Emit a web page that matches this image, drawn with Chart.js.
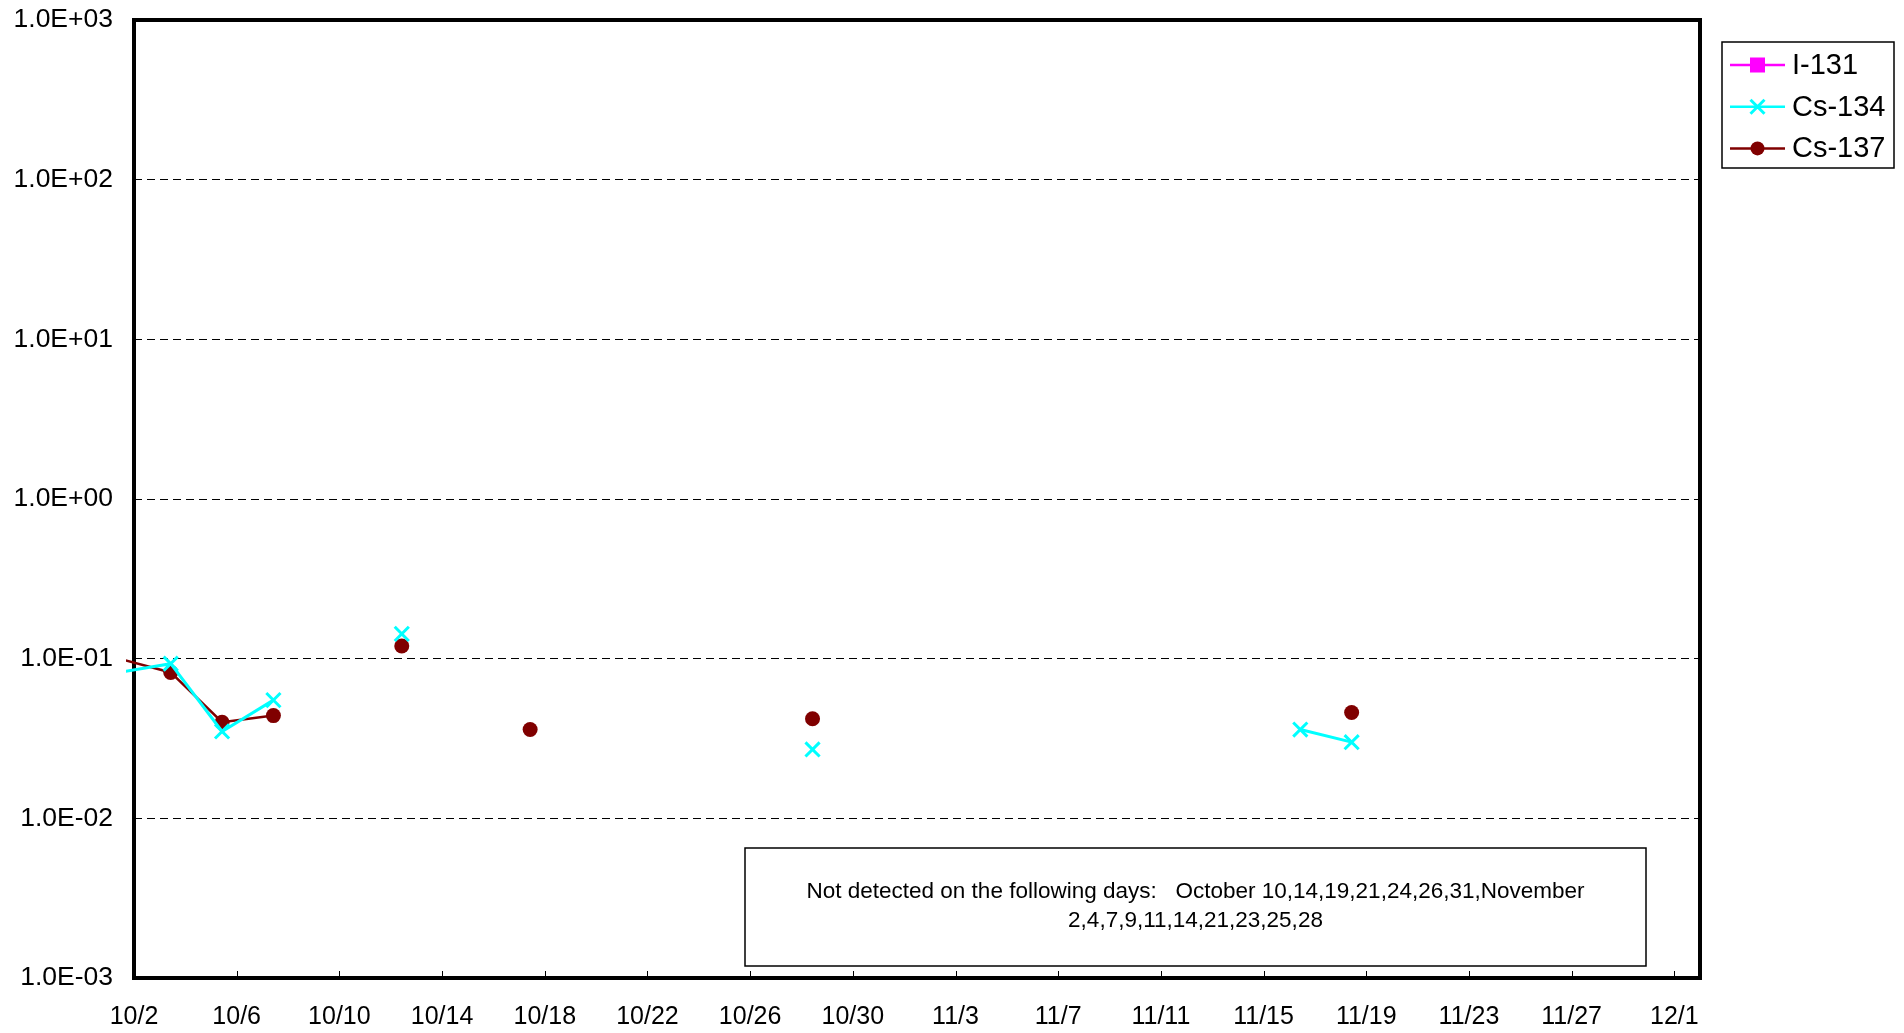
<!DOCTYPE html>
<html>
<head>
<meta charset="utf-8">
<script src="https://cdn.jsdelivr.net/npm/chart.js@4.4.1/dist/chart.umd.min.js"></script>
<style>
html,body{margin:0;padding:0;background:#fff;overflow:hidden}
</style>
</head>
<body>
<canvas id="chart" width="1904" height="1033"></canvas>
<script>
// sampling days (sample taken around 10:20 each day)
const sampleDates = ['10/1','10/3','10/5','10/7','10/10','10/12','10/14','10/17','10/19','10/21','10/24','10/26','10/28','10/31',
  '11/2','11/4','11/7','11/9','11/11','11/14','11/16','11/18','11/21','11/23','11/25','11/28'];
const sampleTime = '10:20';

const i131  = [null,null,null,null,null,null,null,null,null,null,null,null,null,null,null,null,null,null,null,null,null,null,null,null,null,null];
const cs134 = [0.082,0.093,0.035,0.055,null,0.143,null,null,null,null,null,null,0.027,null,null,null,null,null,null,null,0.036,0.030,null,null,null,null];
const cs137 = [0.10,0.082,0.040,0.044,null,0.12,null,0.036,null,null,null,null,0.042,null,null,null,null,null,null,null,null,0.046,null,null,null,null];

const xTickLabels = ['10/2','10/6','10/10','10/14','10/18','10/22','10/26','10/30','11/3','11/7','11/11','11/15','11/19','11/23','11/27','12/1'];
const xStart = '10/2', xEnd = '12/2';
const yTickValues = [1e-3,1e-2,1e-1,1,10,100,1000];
const yTickLabels = ['1.0E-03','1.0E-02','1.0E-01','1.0E+00','1.0E+01','1.0E+02','1.0E+03'];

const noteLines = ['Not detected on the following days:   October 10,14,19,21,24,26,31,November','2,4,7,9,11,14,21,23,25,28'];

const FONT = '"Liberation Sans", Arial, sans-serif';

// days since xStart
function dayNum(md, time){
  const [m,d]=md.split('/').map(Number);
  const [hh,mm]=(time||'0:00').split(':').map(Number);
  const [m0,d0]=xStart.split('/').map(Number);
  return (Date.UTC(2011,m-1,d,hh,mm)-Date.UTC(2011,m0-1,d0))/86400000;
}
const sampleX = sampleDates.map(s=>dayNum(s,sampleTime));
const toPts = arr => arr.map((v,i)=>({x:sampleX[i], y:v}));

const hideOutside = c => (c.raw && c.raw.x < 0) ? 0 : undefined;

const frame = {
  id:'frame',
  beforeDatasetsDraw(chart){
    const {ctx, chartArea:a, scales:{x}} = chart;
    ctx.save();
    ctx.strokeStyle='#000';
    ctx.lineWidth=1;
    x.ticks.forEach(t=>{
      const px=Math.round(x.getPixelForValue(t.value))+0.5;
      ctx.beginPath(); ctx.moveTo(px,a.bottom); ctx.lineTo(px,a.bottom-7); ctx.stroke();
    });
    ctx.lineWidth=4;
    ctx.strokeRect(a.left,a.top,a.right-a.left,a.bottom-a.top);
    ctx.restore();
  },
  afterDraw(chart, args, opts){
    const ctx=chart.ctx;
    ctx.save();
    // note box
    const n=opts.note;
    ctx.fillStyle='#fff';
    ctx.fillRect(n.left,n.top,n.right-n.left,n.bottom-n.top);
    ctx.strokeStyle='#000'; ctx.lineWidth=1.5;
    ctx.strokeRect(n.left,n.top,n.right-n.left,n.bottom-n.top);
    ctx.fillStyle='#000';
    ctx.font='22.5px '+FONT;
    ctx.textAlign='center'; ctx.textBaseline='alphabetic';
    noteLines.forEach((t,i)=>ctx.fillText(t,(n.left+n.right)/2,n.firstBaseline+i*n.lineGap));

    // legend
    const L=opts.legend;
    ctx.fillStyle='#fff';
    ctx.fillRect(L.left,L.top,L.right-L.left,L.bottom-L.top);
    ctx.strokeStyle='#000'; ctx.lineWidth=1.5;
    ctx.strokeRect(L.left,L.top,L.right-L.left,L.bottom-L.top);
    ctx.font='29px '+FONT;
    ctx.textAlign='left'; ctx.textBaseline='middle';
    chart.data.datasets.forEach((ds,i)=>{
      const y=L.firstRow+i*L.rowGap;
      const cx=(L.lineFrom+L.lineTo)/2;
      ctx.strokeStyle=ds.borderColor; ctx.lineWidth=2.5;
      ctx.beginPath(); ctx.moveTo(L.lineFrom,y); ctx.lineTo(L.lineTo,y); ctx.stroke();
      ctx.fillStyle=ds.borderColor;
      if(ds.pointStyle==='rect'){
        ctx.fillRect(cx-7.5,y-7.5,15,15);
      } else if(ds.pointStyle==='circle'){
        ctx.beginPath(); ctx.arc(cx,y,7,0,Math.PI*2); ctx.fill();
      } else {
        ctx.lineWidth=3; ctx.beginPath();
        ctx.moveTo(cx-7,y-7); ctx.lineTo(cx+7,y+7);
        ctx.moveTo(cx+7,y-7); ctx.lineTo(cx-7,y+7); ctx.stroke();
      }
      ctx.fillStyle='#000';
      ctx.fillText(ds.label,L.textX,y+1);
    });
    ctx.restore();
  }
};

new Chart(document.getElementById('chart'),{
  type:'line',
  data:{
    datasets:[
      { label:'I-131', data:toPts(i131), borderColor:'#FF00FF', backgroundColor:'#FF00FF',
        pointStyle:'rect', pointRadius:8, borderWidth:2.5 },
      { label:'Cs-134', data:toPts(cs134), borderColor:'#00FFFF', backgroundColor:'#00FFFF',
        pointStyle:'crossRot', pointRadius:c=>hideOutside(c) ?? 10, pointBorderWidth:3, borderWidth:3,
        clip:{left:8,top:6,right:6,bottom:6} },
      { label:'Cs-137', data:toPts(cs137), borderColor:'#800000', backgroundColor:'#800000',
        pointStyle:'circle', pointRadius:c=>hideOutside(c) ?? 7.5, pointBorderWidth:0, borderWidth:2.5,
        clip:{left:8,top:6,right:6,bottom:6} }
    ]
  },
  options:{
    responsive:false,
    animation:false,
    events:[],
    spanGaps:false,
    layout:{ padding:{top:20,right:204,left:0,bottom:0} },
    scales:{
      x:{
        type:'linear',
        min:dayNum(xStart), max:dayNum(xEnd),
        afterBuildTicks:s=>{ s.ticks=xTickLabels.map(l=>({value:dayNum(l)})); },
        afterFit:s=>{ s.height=55; s.paddingLeft=0; s.paddingRight=0; },
        grid:{ display:false, drawTicks:false },
        border:{ display:false },
        ticks:{ autoSkip:false, maxRotation:0, padding:24, color:'#000', font:{family:FONT,size:25},
          callback:(v,i)=>xTickLabels[i] }
      },
      y:{
        type:'logarithmic',
        min:yTickValues[0], max:yTickValues[yTickValues.length-1],
        afterBuildTicks:s=>{ s.ticks=yTickValues.map(v=>({value:v})); },
        afterFit:s=>{ s.width=134; s.paddingTop=0; s.paddingBottom=0; },
        grid:{ color:'#000', lineWidth:1, drawTicks:false },
        border:{ display:false, dash:[8,5] },
        ticks:{ autoSkip:false, padding:21, color:'#000', font:{family:FONT,size:26.5},
          callback:(v,i)=>yTickLabels[i] }
      }
    },
    plugins:{
      legend:{ display:false },
      tooltip:{ enabled:false },
      frame:{
        note:{ left:745, top:848, right:1646, bottom:966, firstBaseline:898, lineGap:29 },
        legend:{ left:1722, top:42, right:1894, bottom:168, firstRow:65, rowGap:41.7, lineFrom:1730, lineTo:1785, textX:1792 }
      }
    }
  },
  plugins:[frame]
});
</script>
</body>
</html>
